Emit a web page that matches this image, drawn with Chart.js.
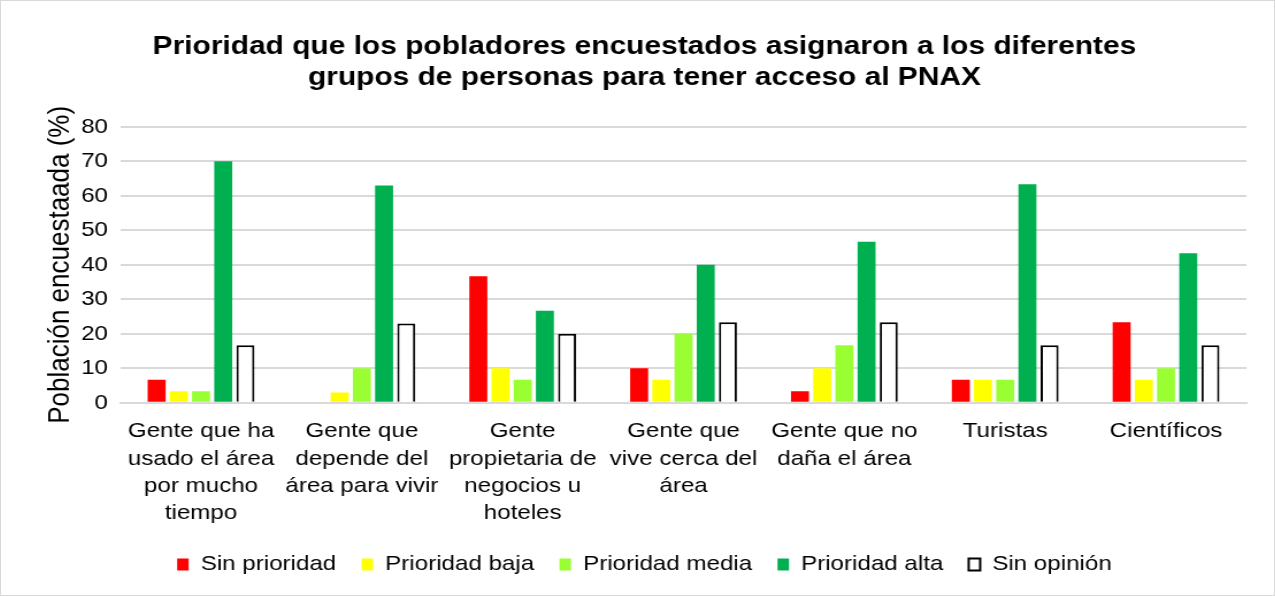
<!DOCTYPE html>
<html>
<head>
<meta charset="utf-8">
<script src="https://cdn.jsdelivr.net/npm/chart.js@4/dist/chart.umd.min.js"></script>
<style>
    html, body { margin: 0; padding: 0; background: #fff; overflow: hidden; }
    #wrap { position: relative; width: 1273px; height: 594px; border: 1px solid #d9d9d9; overflow: hidden; }
    /* the original picture is a little wider than its text; stretch the canvas the same way */
    #chart { position: absolute; left: 0; top: 0; transform: scaleX(1.15); transform-origin: 0 0; }
</style>
</head>
<body>
<div id="wrap"><canvas id="chart" width="1107" height="594"></canvas></div>
<script>
const categories = [
    ['Gente que ha', 'usado el área', 'por mucho', 'tiempo'],
    ['Gente que', 'depende del', 'área para vivir'],
    ['Gente', 'propietaria de', 'negocios u', 'hoteles'],
    ['Gente que', 'vive cerca del', 'área'],
    ['Gente que no', 'daña el área'],
    'Turistas',
    'Científicos',
];

const sinPrioridad = [6.67, 0, 36.67, 10, 3.33, 6.67, 23.33];
const prioridadBaja = [3.33, 3, 10, 6.67, 10, 6.67, 6.67];
const prioridadMedia = [3.33, 10, 6.67, 20, 16.67, 6.67, 10];
const prioridadAlta = [70, 63, 26.67, 40, 46.67, 63.33, 43.33];
const sinOpinion = [16.67, 23, 20, 23.33, 23.33, 16.67, 16.67];

const yTicks = [0, 10, 20, 30, 40, 50, 60, 70, 80];

const font = 'Liberation Sans, Arial, sans-serif';

function series(label, data, fill, border, width) {
    return {
        label: label,
        data: data,
        backgroundColor: fill,
        borderColor: border,
        borderWidth: width,
        categoryPercentage: 0.69,
        barPercentage: 0.81,
    };
}

new Chart(document.getElementById('chart'), {
    type: 'bar',
    data: {
        labels: categories,
        datasets: [
            series('Sin prioridad', sinPrioridad, '#ff0000', '#ff0000', 0),
            series('Prioridad baja', prioridadBaja, '#ffff00', '#ffff00', 0),
            series('Prioridad media', prioridadMedia, '#99ff33', '#99ff33', 0),
            series('Prioridad alta', prioridadAlta, '#00b050', '#00b050', 0),
            series('Sin opinión', sinOpinion, '#ffffff', '#000000', 2),
        ]
    },
    options: {
        responsive: false,
        animation: false,
        layout: { padding: { left: 36, right: 24, top: 16, bottom: 10 } },
        plugins: {
            title: {
                display: true,
                text: [
                    'Prioridad que los pobladores encuestados asignaron a los diferentes',
                    'grupos de personas para tener acceso al PNAX'
                ],
                color: '#000',
                font: { family: font, size: 26, weight: 'bold', lineHeight: 1.19 },
                padding: { top: 14, bottom: 34 },
            },
            legend: {
                position: 'bottom',
                labels: {
                    color: '#000',
                    font: { family: font, size: 21 },
                    boxWidth: 10,
                    boxHeight: 12,
                    padding: 22,
                },
            },
            tooltip: { enabled: false },
        },
        scales: {
            x: {
                grid: { display: false },
                border: { color: '#d9d9d9', width: 2 },
                ticks: {
                    color: '#000',
                    font: { family: font, size: 21, lineHeight: 1.3 },
                    maxRotation: 0,
                    autoSkip: false,
                    padding: 7,
                },
                afterFit: axis => { axis.height -= 2; },
            },
            y: {
                min: 0,
                max: 80,
                afterBuildTicks: axis => { axis.ticks = yTicks.map(v => ({ value: v })); },
                afterFit: axis => { axis.width = 68; },
                grid: { color: '#d9d9d9', lineWidth: 2, drawTicks: false },
                border: { display: false },
                ticks: {
                    color: '#000',
                    font: { family: font, size: 21 },
                    padding: 11,
                },
                title: {
                    display: true,
                    text: 'Población encuestaada (%)',
                    color: '#000',
                    font: { family: font, size: 26, lineHeight: 1.2 },
                    padding: 0,
                },
            },
        },
    },
});
</script>
</body>
</html>
